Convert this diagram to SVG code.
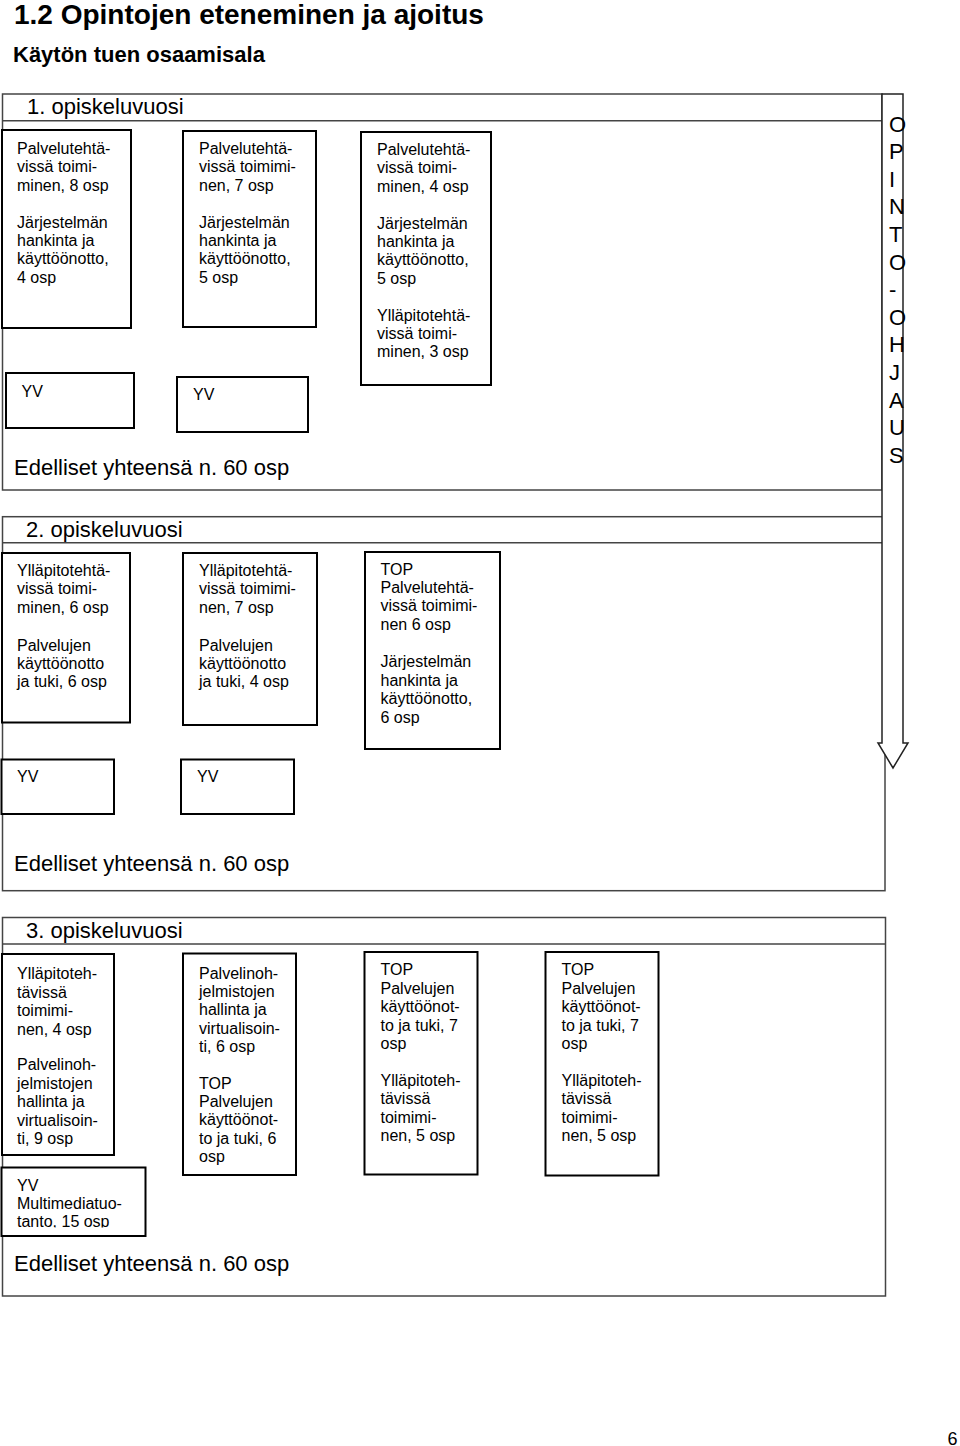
<svg xmlns="http://www.w3.org/2000/svg" width="960" height="1446" viewBox="0 0 960 1446">
<style>
text{font-family:"Liberation Sans",Arial,sans-serif;fill:#000}
.h1{font-size:28px;font-weight:bold}
.h2{font-size:22px;font-weight:bold}
.yr{font-size:22px}
.tot{font-size:22px}
.t{font-size:16px}
.frame{fill:none;stroke:#444;stroke-width:1.5}
.box{fill:#fff;stroke:#000;stroke-width:2}
.arrow{fill:#fff;stroke:#222;stroke-width:1.5}
.vert{font-size:22px}
.pg{font-size:18px}
</style>
<defs>
<clipPath id="clipYV5"><rect x="0" y="1168" width="146" height="59.5"/></clipPath>
</defs>
<text class="h1" x="14" y="24">1.2 Opintojen eteneminen ja ajoitus</text>
<text class="h2" x="13" y="62">Käytön tuen osaamisala</text>

<g id="year1">
<rect class="frame" x="2.5" y="94" width="879.5" height="396"/>
<line class="frame" x1="2.5" y1="120.7" x2="882" y2="120.7"/>
<text class="yr" x="27" y="114">1. opiskeluvuosi</text>
<text class="tot" x="14" y="475">Edelliset yhteensä n. 60 osp</text>
</g>
<g id="year2">
<rect class="frame" x="2.5" y="516.7" width="882.5" height="374"/>
<line class="frame" x1="2.5" y1="542.7" x2="885" y2="542.7"/>
<text class="yr" x="26" y="537">2. opiskeluvuosi</text>
<text class="tot" x="14" y="871">Edelliset yhteensä n. 60 osp</text>
</g>
<g id="year3">
<rect class="frame" x="2.5" y="917.5" width="883" height="378.5"/>
<line class="frame" x1="2.5" y1="944" x2="885.5" y2="944"/>
<text class="yr" x="26" y="938">3. opiskeluvuosi</text>
<text class="tot" x="14" y="1271">Edelliset yhteensä n. 60 osp</text>
</g>

<g id="connectors">
<polygon id="arrow" class="arrow" points="882,94 903,94 903,743 908,743 893,768 878,743 882,743"/>
</g>
<g id="opinto-ohjaus">
<text class="vert" x="889">
<tspan x="889" y="131.5">O</tspan><tspan x="889" y="159.1">P</tspan><tspan x="889" y="186.7">I</tspan><tspan x="889" y="214.3">N</tspan><tspan x="889" y="241.9">T</tspan><tspan x="889" y="269.5">O</tspan><tspan x="889" y="297.1">-</tspan><tspan x="889" y="324.7">O</tspan><tspan x="889" y="352.3">H</tspan><tspan x="889" y="379.9">J</tspan><tspan x="889" y="407.5">A</tspan><tspan x="889" y="435.1">U</tspan><tspan x="889" y="462.7">S</tspan>
</text>
</g>

<!-- Year 1 nodes -->
<g id="y1a">
<rect class="box" x="2" y="130" width="129" height="198"/>
<text class="t"><tspan x="17" y="154">Palvelutehtä-</tspan><tspan x="17" y="172.4">vissä toimi-</tspan><tspan x="17" y="190.8">minen, 8 osp</tspan><tspan x="17" y="227.6">Järjestelmän</tspan><tspan x="17" y="246">hankinta ja</tspan><tspan x="17" y="264.4">käyttöönotto,</tspan><tspan x="17" y="282.8">4 osp</tspan></text>
</g>
<g id="y1b">
<rect class="box" x="183" y="131" width="133" height="196"/>
<text class="t"><tspan x="199" y="154">Palvelutehtä-</tspan><tspan x="199" y="172.4">vissä toimimi-</tspan><tspan x="199" y="190.8">nen, 7 osp</tspan><tspan x="199" y="227.6">Järjestelmän</tspan><tspan x="199" y="246">hankinta ja</tspan><tspan x="199" y="264.4">käyttöönotto,</tspan><tspan x="199" y="282.8">5 osp</tspan></text>
</g>
<g id="y1c">
<rect class="box" x="361" y="132" width="130" height="253"/>
<text class="t"><tspan x="377" y="155">Palvelutehtä-</tspan><tspan x="377" y="173.4">vissä toimi-</tspan><tspan x="377" y="191.8">minen, 4 osp</tspan><tspan x="377" y="228.6">Järjestelmän</tspan><tspan x="377" y="247">hankinta ja</tspan><tspan x="377" y="265.4">käyttöönotto,</tspan><tspan x="377" y="283.8">5 osp</tspan><tspan x="377" y="320.6">Ylläpitotehtä-</tspan><tspan x="377" y="339">vissä toimi-</tspan><tspan x="377" y="357.4">minen, 3 osp</tspan></text>
</g>
<g id="y1yv1">
<rect class="box" x="6" y="373" width="128" height="55"/>
<text class="t" x="21.5" y="396.5">YV</text>
</g>
<g id="y1yv2">
<rect class="box" x="177" y="377" width="131" height="55"/>
<text class="t" x="193" y="400">YV</text>
</g>

<!-- Year 2 nodes -->
<g id="y2a">
<rect class="box" x="2" y="553" width="128" height="169.5"/>
<text class="t"><tspan x="17" y="576">Ylläpitotehtä-</tspan><tspan x="17" y="594.4">vissä toimi-</tspan><tspan x="17" y="612.8">minen, 6 osp</tspan><tspan x="17" y="650.6">Palvelujen</tspan><tspan x="17" y="669">käyttöönotto</tspan><tspan x="17" y="687.4">ja tuki, 6 osp</tspan></text>
</g>
<g id="y2b">
<rect class="box" x="183" y="553" width="134" height="172"/>
<text class="t"><tspan x="199" y="576">Ylläpitotehtä-</tspan><tspan x="199" y="594.4">vissä toimimi-</tspan><tspan x="199" y="612.8">nen, 7 osp</tspan><tspan x="199" y="650.6">Palvelujen</tspan><tspan x="199" y="669">käyttöönotto</tspan><tspan x="199" y="687.4">ja tuki, 4 osp</tspan></text>
</g>
<g id="y2c">
<rect class="box" x="365" y="552" width="135" height="197"/>
<text class="t"><tspan x="380.5" y="574.5">TOP</tspan><tspan x="380.5" y="592.9">Palvelutehtä-</tspan><tspan x="380.5" y="611.3">vissä toimimi-</tspan><tspan x="380.5" y="629.7">nen 6 osp</tspan><tspan x="380.5" y="667.3">Järjestelmän</tspan><tspan x="380.5" y="685.7">hankinta ja</tspan><tspan x="380.5" y="704.1">käyttöönotto,</tspan><tspan x="380.5" y="722.5">6 osp</tspan></text>
</g>
<g id="y2yv1">
<rect class="box" x="1.5" y="759.5" width="112.5" height="54.5"/>
<text class="t" x="17" y="782">YV</text>
</g>
<g id="y2yv2">
<rect class="box" x="181" y="759.5" width="113" height="54.5"/>
<text class="t" x="197" y="782">YV</text>
</g>

<!-- Year 3 nodes -->
<g id="y3a">
<rect class="box" x="2" y="954" width="112" height="201"/>
<text class="t"><tspan x="17" y="979.3">Ylläpitoteh-</tspan><tspan x="17" y="997.7">tävissä</tspan><tspan x="17" y="1016.1">toimimi-</tspan><tspan x="17" y="1034.5">nen, 4 osp</tspan><tspan x="17" y="1070.3">Palvelinoh-</tspan><tspan x="17" y="1088.7">jelmistojen</tspan><tspan x="17" y="1107.1">hallinta ja</tspan><tspan x="17" y="1125.5">virtualisoin-</tspan><tspan x="17" y="1143.9">ti, 9 osp</tspan></text>
</g>
<g id="y3b">
<rect class="box" x="183" y="953.5" width="113" height="221.5"/>
<text class="t"><tspan x="199" y="978.5">Palvelinoh-</tspan><tspan x="199" y="996.9">jelmistojen</tspan><tspan x="199" y="1015.3">hallinta ja</tspan><tspan x="199" y="1033.7">virtualisoin-</tspan><tspan x="199" y="1052.1">ti, 6 osp</tspan><tspan x="199" y="1088.5">TOP</tspan><tspan x="199" y="1106.9">Palvelujen</tspan><tspan x="199" y="1125.3">käyttöönot-</tspan><tspan x="199" y="1143.7">to ja tuki, 6</tspan><tspan x="199" y="1162.1">osp</tspan></text>
</g>
<g id="y3c">
<rect class="box" x="364.5" y="952" width="113" height="222.5"/>
<text class="t"><tspan x="380.5" y="975.3">TOP</tspan><tspan x="380.5" y="993.7">Palvelujen</tspan><tspan x="380.5" y="1012.1">käyttöönot-</tspan><tspan x="380.5" y="1030.5">to ja tuki, 7</tspan><tspan x="380.5" y="1048.9">osp</tspan><tspan x="380.5" y="1086">Ylläpitoteh-</tspan><tspan x="380.5" y="1104.4">tävissä</tspan><tspan x="380.5" y="1122.8">toimimi-</tspan><tspan x="380.5" y="1141.2">nen, 5 osp</tspan></text>
</g>
<g id="y3d">
<rect class="box" x="545.5" y="952" width="113" height="223.5"/>
<text class="t"><tspan x="561.5" y="975.3">TOP</tspan><tspan x="561.5" y="993.7">Palvelujen</tspan><tspan x="561.5" y="1012.1">käyttöönot-</tspan><tspan x="561.5" y="1030.5">to ja tuki, 7</tspan><tspan x="561.5" y="1048.9">osp</tspan><tspan x="561.5" y="1086">Ylläpitoteh-</tspan><tspan x="561.5" y="1104.4">tävissä</tspan><tspan x="561.5" y="1122.8">toimimi-</tspan><tspan x="561.5" y="1141.2">nen, 5 osp</tspan></text>
</g>
<g id="y3yv">
<rect class="box" x="1.5" y="1167.5" width="144" height="68.5"/>
<text class="t" clip-path="url(#clipYV5)"><tspan x="17" y="1191">YV</tspan><tspan x="17" y="1209.2">Multimediatuo-</tspan><tspan x="17" y="1227.4">tanto, 15 osp</tspan></text>
</g>

<text class="pg" x="947.5" y="1444.5">6</text>
</svg>
